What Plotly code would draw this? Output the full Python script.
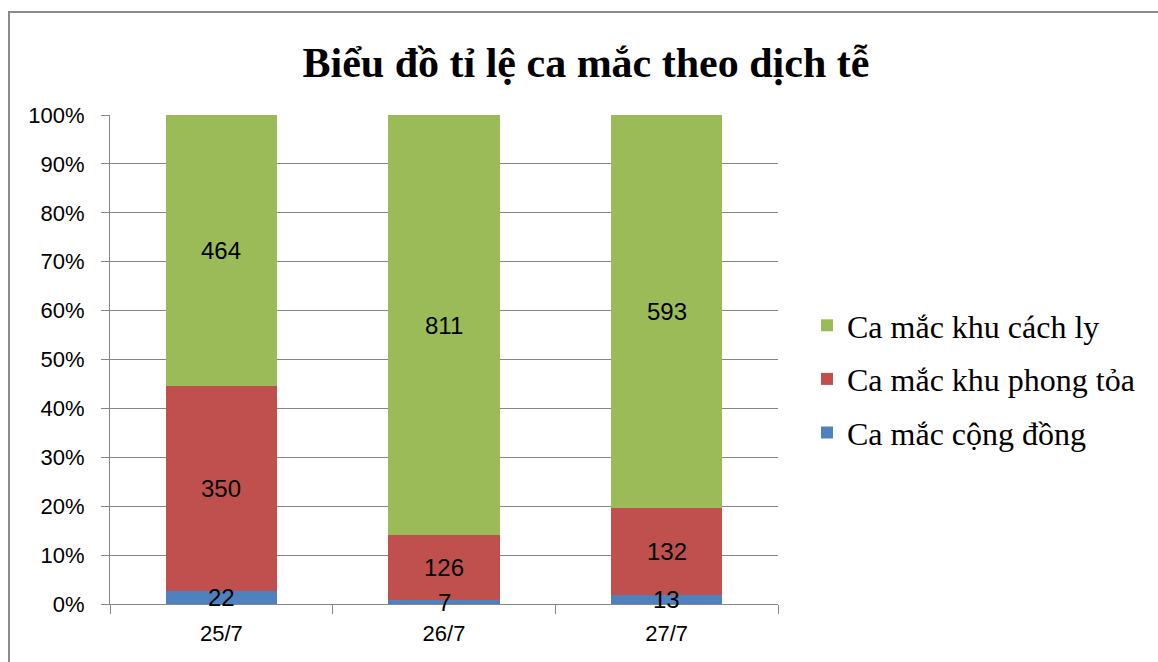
import plotly.graph_objects as go

dates = ["25/7", "26/7", "27/7"]
cong_dong = [22, 7, 13]
phong_toa = [350, 126, 132]
cach_ly = [464, 811, 593]

series = [
    ("Ca mắc cộng đồng", cong_dong, "#4F81BD", 3),
    ("Ca mắc khu phong tỏa", phong_toa, "#C0504D", 2),
    ("Ca mắc khu cách ly", cach_ly, "#9BBB59", 1),
]

fig = go.Figure()
for name, vals, color, rank in series:
    fig.add_trace(go.Bar(
        x=dates, y=vals, name=name, legendgroup=name, legendrank=rank,
        marker=dict(color=color, line=dict(width=0)),
        width=0.5, hoverinfo="x+y+name",
    ))

# data labels centred in each segment (percent scale)
totals = [sum(s[1][i] for s in series) for i in range(len(dates))]
annotations = []
for i, d in enumerate(dates):
    cum = 0
    for name, vals, color, rank in series:
        pct = vals[i] / totals[i] * 100
        annotations.append(dict(
            x=d, y=cum + pct / 2, xref="x", yref="y", text=str(vals[i]),
            showarrow=False, font=dict(family="Liberation Sans", size=24, color="black"),
        ))
        cum += pct

L, R, T, B = 110, 778, 115, 604
W, H = 1158, 662
pw, ph = R - L, B - T

def px(x):
    return (x - L) / pw

def py(y):
    return (B - y) / ph

fig.update_layout(
    width=W, height=H,
    barmode="stack", barnorm="percent",
    margin=dict(l=L, r=W - R, t=T, b=H - B, autoexpand=False),
    plot_bgcolor="white", paper_bgcolor="white",
    title=dict(text="<b>Biểu đồ tỉ lệ ca mắc theo dịch tễ</b>", x=0.506, xanchor="center",
               y=1 - 62 / H, yanchor="middle", yref="container",
               font=dict(family="Liberation Serif", size=42, color="black")),
    legend=dict(x=px(807), y=py(298), xanchor="left", yanchor="top",
                traceorder="grouped", tracegroupgap=9,
                font=dict(family="Liberation Serif", size=32, color="black"),
                bgcolor="rgba(0,0,0,0)"),
    xaxis=dict(showline=True, linecolor="#868686", linewidth=1, ticks="outside",
               tickson="boundaries", ticklen=9, tickcolor="#868686",
               ticklabelstandoff=10,
               tickfont=dict(family="Liberation Sans", size=22, color="black"),
               showgrid=False),
    yaxis=dict(range=[0, 100], dtick=10, ticksuffix="%", showline=True, linecolor="#868686",
               linewidth=1, ticks="outside", ticklen=8, tickcolor="#868686",
               ticklabelstandoff=12,
               gridcolor="#868686", gridwidth=1,
               tickfont=dict(family="Liberation Sans", size=22, color="black")),
    annotations=annotations,
    shapes=[dict(type="rect", xref="paper", yref="paper",
                 x0=px(9), x1=px(1170), y0=py(12), y1=py(680),
                 line=dict(color="#8C8C8C", width=2), layer="above")],
    showlegend=True,
)

fig.write_html("out.html", config={"displayModeBar": False},
               post_script="document.body.style.margin='0px';")
